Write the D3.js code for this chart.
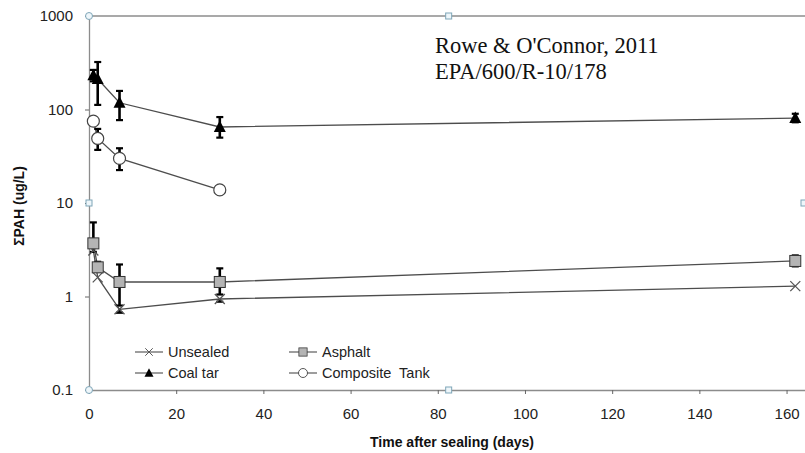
<!DOCTYPE html>
<html><head><meta charset="utf-8">
<script src="https://cdn.jsdelivr.net/npm/d3@7"></script>
<style>body{margin:0;background:#fff}svg{display:block}</style>
</head><body>
<svg id="c" width="805" height="453"></svg>
<script>
// ---- data ----
const xTicks = [0, 20, 40, 60, 80, 100, 120, 140, 160];
const yTicks = [0.1, 1, 10, 100, 1000];
const yTickLabels = ["0.1", "1", "10", "100", "1000"];

const unsealedDays = [1, 2, 7, 30, 162];
const unsealed     = [3.1, 1.6, 0.73, 0.94, 1.29];
const unsealedLo   = [3.1, 1.6, 0.67, 0.88, 1.29];
const unsealedHi   = [3.1, 1.6, 0.73, 0.94, 1.29];

const asphaltDays = [1, 2, 7, 30, 162];
const asphalt     = [3.7, 2.05, 1.43, 1.43, 2.4];
const asphaltLo   = [3.0, 1.85, 0.8, 1.05, 2.1];
const asphaltHi   = [6.2, 2.35, 2.2, 2.0, 2.75];

const coalTarDays = [1, 2, 7, 30, 162];
const coalTar     = [232, 212, 118, 65, 81];
const coalTarLo   = [200, 112, 77, 50, 73];
const coalTarHi   = [265, 322, 158, 83, 90];

const compositeDays = [1, 2, 7, 30];
const composite     = [75, 49, 30, 13.8];
const compositeLo   = [75, 37, 22.5, 12.6];
const compositeHi   = [75, 62, 38.5, 14.6];

const seriesNames = ["Unsealed", "Asphalt", "Coal tar", "Composite  Tank"];
const xTitle = "Time after sealing (days)";
const yTitle = "\u03A3PAH (ug/L)";
const note = ["Rowe & O'Connor, 2011", "EPA/600/R-10/178"];

// ---- chart ----
const svg = d3.select("#c");
const x = d3.scaleLinear().domain([0, 164]).range([89, 804]);
const y = d3.scaleLog().domain([0.1, 1000]).range([390, 16]);
const axisColor = "#8c8c8c";
const lineColor = "#4d4d4d";
const font = "Liberation Sans, Arial, sans-serif";

// frame top line
svg.append("line").attr("x1", x(0)).attr("x2", 805).attr("y1", y(1000)).attr("y2", y(1000))
  .attr("stroke", axisColor).attr("stroke-width", 1.3);

const gx = svg.append("g").attr("transform", `translate(0,${y(0.1)})`)
  .call(d3.axisBottom(x).tickValues(xTicks).tickSize(4).tickPadding(14).tickSizeOuter(0));
gx.select(".domain").attr("d", `M${x(0)},0.5H805`);
const gy = svg.append("g").attr("transform", `translate(${x(0)},0)`)
  .call(d3.axisLeft(y).tickValues(yTicks).tickFormat((d, i) => yTickLabels[i]).tickSize(4).tickPadding(12).tickSizeOuter(0));
[gx, gy].forEach(g => {
  g.selectAll(".domain").attr("stroke", axisColor).attr("stroke-width", 1.3);
  g.selectAll(".tick line").attr("stroke", "#666").attr("stroke-width", 1);
  g.selectAll("text").attr("font-family", font).attr("font-size", 15).attr("fill", "#222");
});

svg.append("text").attr("x", 452).attr("y", 447).attr("text-anchor", "middle")
  .attr("font-family", font).attr("font-weight", "bold").attr("font-size", 14).attr("fill", "#111").text(xTitle);
svg.append("text").attr("transform", "translate(24,206) rotate(-90)").attr("text-anchor", "middle")
  .attr("font-family", font).attr("font-weight", "bold").attr("font-size", 14).attr("fill", "#111").text(yTitle);

// annotation
note.forEach((t, i) => svg.append("text").attr("x", 435).attr("y", 53 + i * 26)
  .attr("font-family", "Liberation Serif, Times New Roman, serif").attr("font-size", 22.5).attr("fill", "#111").text(t));

// series
const series = [
  {days: unsealedDays, v: unsealed, lo: unsealedLo, hi: unsealedHi, m: "x"},
  {days: asphaltDays, v: asphalt, lo: asphaltLo, hi: asphaltHi, m: "square"},
  {days: coalTarDays, v: coalTar, lo: coalTarLo, hi: coalTarHi, m: "triangle"},
  {days: compositeDays, v: composite, lo: compositeLo, hi: compositeHi, m: "circle"}
];

function marker(g, type, cx, cy) {
  if (type === "x") {
    g.append("path").attr("d", `M${cx-5},${cy-5}L${cx+5},${cy+5}M${cx-5},${cy+5}L${cx+5},${cy-5}`)
      .attr("stroke", "#555").attr("stroke-width", 1.3).attr("fill", "none");
  } else if (type === "square") {
    g.append("rect").attr("x", cx-5.5).attr("y", cy-5.5).attr("width", 11).attr("height", 11)
      .attr("fill", "#b4b4b4").attr("stroke", "#333").attr("stroke-width", 1);
  } else if (type === "triangle") {
    g.append("path").attr("d", `M${cx},${cy-6.5}L${cx+6},${cy+5}L${cx-6},${cy+5}Z`).attr("fill", "#000");
  } else {
    g.append("circle").attr("cx", cx).attr("cy", cy).attr("r", 6).attr("fill", "#fff")
      .attr("stroke", "#444").attr("stroke-width", 1.2);
  }
}

const line = d3.line().x(d => x(d[0])).y(d => y(d[1]));
series.forEach(s => {
  const pts = s.days.map((d, i) => [d, s.v[i]]);
  svg.append("path").attr("d", line(pts)).attr("fill", "none").attr("stroke", lineColor).attr("stroke-width", 1.3);
});
// error bars
series.forEach(s => {
  const g = svg.append("g").attr("stroke", "#000").attr("stroke-width", 2.6).attr("fill", "none");
  s.days.forEach((d, i) => {
    if (s.hi[i] === s.lo[i]) return;
    const cx = x(d), y1 = y(s.lo[i]), y2 = y(s.hi[i]);
    g.append("line").attr("x1", cx).attr("x2", cx).attr("y1", y1).attr("y2", y2);
    if (s.hi[i] > s.v[i]) g.append("line").attr("x1", cx-3.5).attr("x2", cx+3.5).attr("y1", y2).attr("y2", y2).attr("stroke-width", 2.2);
    if (s.lo[i] < s.v[i]) g.append("line").attr("x1", cx-3.5).attr("x2", cx+3.5).attr("y1", y1).attr("y2", y1).attr("stroke-width", 2.2);
  });
});
series.forEach(s => {
  const g = svg.append("g");
  s.days.forEach((d, i) => marker(g, s.m, x(d), y(s.v[i])));
});

// legend
const legPos = [[135, 352], [289, 352], [135, 373], [289, 373]];
series.forEach((s, i) => {
  const [lx, ly] = legPos[i];
  const g = svg.append("g");
  g.append("line").attr("x1", lx).attr("x2", lx + 28).attr("y1", ly).attr("y2", ly).attr("stroke", lineColor).attr("stroke-width", 1.1);
  const gm = g.append("g").attr("transform", `translate(${lx+14},${ly}) scale(0.75) translate(${-(lx+14)},${-ly})`);
  marker(gm, s.m, lx + 14, ly);
  g.append("text").attr("x", lx + 33).attr("y", ly + 5).attr("font-family", font).attr("font-size", 14.5)
    .attr("fill", "#222").attr("xml:space", "preserve").style("white-space", "pre").text(seriesNames[i]);
});

// selection handles (light blue)
const hColor = "#7fa6b8";
const handles = svg.append("g").attr("fill", "#eef6fa").attr("stroke", hColor).attr("stroke-width", 1);
[[x(0), y(1000)], [x(0), y(0.1)]].forEach(([cx, cy]) => handles.append("circle").attr("cx", cx).attr("cy", cy).attr("r", 3.5));
[[x(82.5), y(1000)], [x(82.5), y(0.1)], [x(0), y(10)], [804, y(10)]].forEach(([cx, cy]) =>
  handles.append("rect").attr("x", cx - 3).attr("y", cy - 3).attr("width", 6).attr("height", 6));
</script>
</body></html>
